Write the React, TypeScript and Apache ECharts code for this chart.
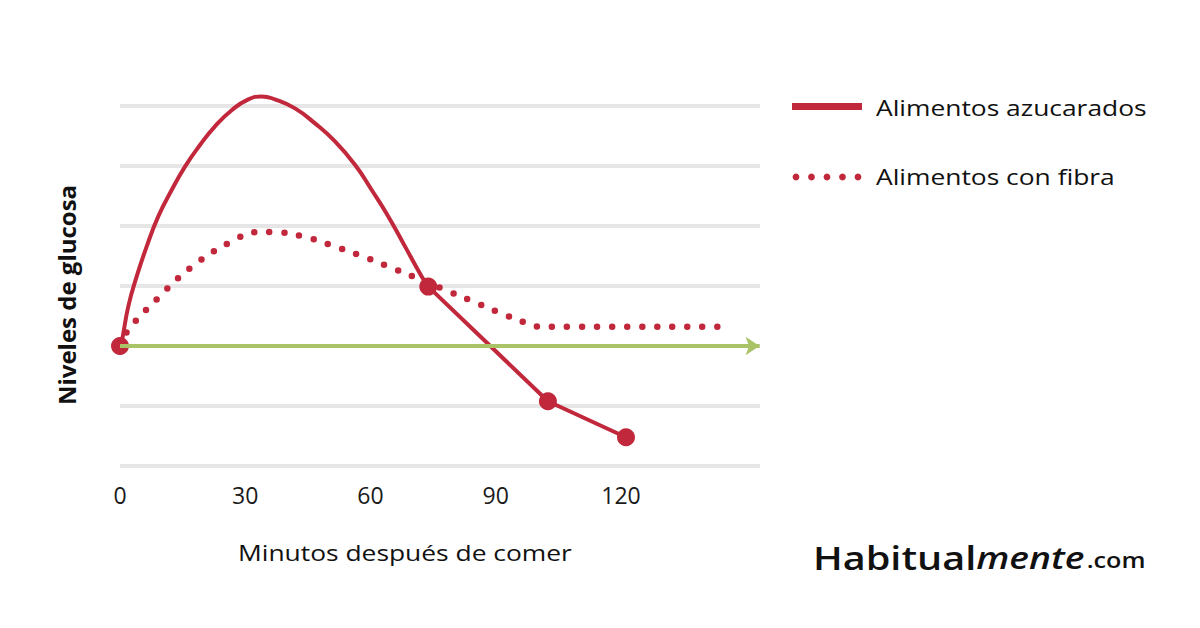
import React, { useEffect, useRef } from 'react';
import * as echarts from 'echarts';

const xTicks = [0, 30, 60, 90, 120];
const sugarCurve = [[0, 2], [0.41, 2.07], [1.99, 2.66], [4.0, 3.16], [6.4, 3.66], [9.17, 4.16], [12.38, 4.6], [15.57, 4.99], [19.16, 5.35], [22.75, 5.66], [26.75, 5.93], [30.73, 6.11], [33.94, 6.16], [37.13, 6.11], [41.92, 5.96], [46.71, 5.71], [51.5, 5.41], [56.29, 5.02], [60.29, 4.6], [64.26, 4.16], [68.26, 3.66], [72.26, 3.16], [73.84, 2.99]];
const sugarTail = [[73.84, 2.99], [102.5, 1.08], [121.2, 0.48]];
const sugarDots = [[0, 2], [73.84, 2.99], [102.5, 1.08], [121.2, 0.48]];
const fiber = [[0, 2], [1.99, 2.27], [9.1, 2.8], [17.17, 3.32], [26.35, 3.73], [33.05, 3.9], [36.89, 3.9], [44.07, 3.82], [51.02, 3.67], [57.89, 3.5], [64.43, 3.32], [70.9, 3.14], [77.37, 2.95], [84.24, 2.75], [90.78, 2.56], [97.41, 2.38], [100.6, 2.32], [104.2, 2.32], [143.5, 2.32]];
const baseline = 2;
const xMax = 153.3;
const arrowEnd = 153.2;

const RED = '#c1283b';
const GREEN = '#a9c366';
const FONT = '"Open Sans", sans-serif';

export default function App() {
  const ref = useRef<HTMLDivElement>(null);
  useEffect(() => {
    const chart = echarts.init(ref.current!, null, { renderer: 'svg' });
    chart.setOption({
      animation: false,
      backgroundColor: '#ffffff',
      grid: { left: 120, right: 440, top: 106, bottom: 162 },
      xAxis: {
        type: 'value', min: 0, max: xMax, interval: 30,
        axisLine: { show: false }, axisTick: { show: false }, splitLine: { show: false },
        axisLabel: {
          margin: 17, fontSize: 23, color: '#1a1a1a', fontFamily: FONT, fontWeight: 500,
          formatter: (v: number) => (xTicks.includes(v) ? String(v) : ''),
        },
      },
      yAxis: {
        type: 'value', min: 0, max: 6, interval: 1,
        axisLine: { show: false }, axisTick: { show: false }, axisLabel: { show: false },
        splitLine: { lineStyle: { color: '#e6e6e6', width: 4 } },
      },
      series: [
        {
          type: 'line', data: [], silent: true, z: 1,
          markLine: {
            silent: true, symbol: ['none', 'arrow'], symbolSize: 14,
            label: { show: false },
            lineStyle: { color: GREEN, width: 4, type: 'solid' },
            emphasis: { disabled: true },
            data: [[{ coord: [0, baseline] }, { coord: [arrowEnd, baseline] }]],
          },
        },
        {
          name: 'Alimentos con fibra', type: 'line', data: fiber, smooth: 0.4, showSymbol: false, z: 2, silent: true, clip: false,
          lineStyle: { color: RED, width: 6.5, type: [0, 15], cap: 'round' },
        },
        {
          name: 'Alimentos azucarados', type: 'line', data: sugarCurve, smooth: 0.5, showSymbol: false, z: 3, silent: true, clip: false,
          lineStyle: { color: RED, width: 4 },
        },
        {
          name: 'Alimentos azucarados', type: 'line', data: sugarTail, smooth: false, showSymbol: false, z: 3, silent: true, clip: false,
          lineStyle: { color: RED, width: 4 },
        },
        {
          type: 'scatter', data: sugarDots, symbol: 'circle', symbolSize: 18, z: 4, silent: true, clip: false,
          itemStyle: { color: RED, opacity: 1 },
        },
      ],
      graphic: [
        { type: 'rect', shape: { x: 792, y: 103, width: 70, height: 7 }, style: { fill: RED } },
        ...[796, 811.5, 827, 842.5, 858].map((cx) => ({ type: 'circle', shape: { cx, cy: 177, r: 3.4 }, style: { fill: RED } })),
        { type: 'text', x: 876, y: 107, scaleX: 1.2, style: { text: 'Alimentos azucarados', fontSize: 22, fontWeight: 500, fontFamily: FONT, fill: '#111', textVerticalAlign: 'middle' } },
        { type: 'text', x: 876, y: 176, scaleX: 1.2, style: { text: 'Alimentos con fibra', fontSize: 22, fontWeight: 500, fontFamily: FONT, fill: '#111', textVerticalAlign: 'middle' } },
        { type: 'text', x: 238, y: 552, scaleX: 1.2, style: { text: 'Minutos después de comer', fontSize: 22, fontWeight: 500, fontFamily: FONT, fill: '#111', textVerticalAlign: 'middle' } },
        { type: 'text', x: 66, y: 295, rotation: Math.PI / 2, style: { text: 'Niveles de glucosa', fontSize: 24, fontWeight: 'bold', fontFamily: FONT, fill: '#111', textAlign: 'center', textVerticalAlign: 'middle' } },
        {
          type: 'text', x: 813, y: 557, scaleX: 1.2,
          style: {
            text: '{a|Habitual}{b|mente}{c|.com}', textVerticalAlign: 'middle',
            rich: {
              a: { fontSize: 33, fontWeight: 600, fontFamily: FONT, fill: '#111' },
              b: { fontSize: 31, fontWeight: 600, fontFamily: FONT, fontStyle: 'italic', fill: '#111', padding: [0, 2, 0, 0] },
              c: { fontSize: 21, fontWeight: 600, fontFamily: FONT, fill: '#111', padding: [6, 0, 0, 0] },
            },
          },
        },
      ],
    });
    return () => chart.dispose();
  }, []);
  return <div ref={ref} style={{ width: 1200, height: 628, position: 'absolute', left: 0, top: 0 }} />;
}
